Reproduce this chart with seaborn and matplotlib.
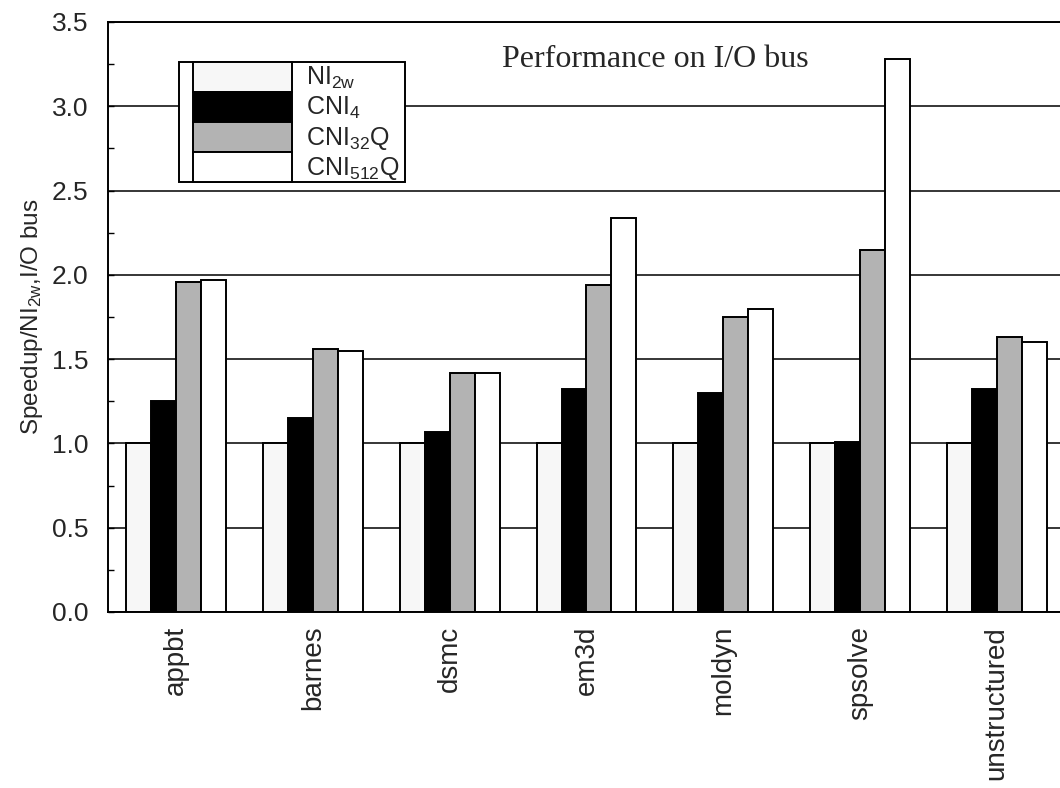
import pandas as pd
import matplotlib.pyplot as plt
import seaborn as sns
from matplotlib.patches import Rectangle
from matplotlib.ticker import MultipleLocator

# dữ liệu
benchmarks = ["appbt", "barnes", "dsmc", "em3d", "moldyn", "spsolve", "unstructured"]
configs = ["NI$_{2w}$", "CNI$_{4}$", "CNI$_{32}$Q", "CNI$_{512}$Q"]
ni2w = [1.0, 1.0, 1.0, 1.0, 1.0, 1.0, 1.0]
cni4 = [1.25, 1.15, 1.07, 1.32, 1.30, 1.01, 1.32]
cni32q = [1.96, 1.56, 1.42, 1.94, 1.75, 2.15, 1.63]
cni512q = [1.97, 1.55, 1.42, 2.34, 1.80, 3.28, 1.60]
colors = ["#f7f7f7", "#000000", "#b3b3b3", "#ffffff"]

rows = []
for cfg, vals in zip(configs, [ni2w, cni4, cni32q, cni512q]):
    for b, v in zip(benchmarks, vals):
        rows.append({"bench": b, "config": cfg, "speedup": v})
df = pd.DataFrame(rows)

sns.set_theme(style="white")
plt.rcParams["font.family"] = ["Liberation Sans", "DejaVu Sans"]
plt.rcParams["mathtext.default"] = "regular"

W, H = 1060, 788
fig = plt.figure(figsize=(W / 100, H / 100), dpi=100)
ax = fig.add_axes([0.1019, 0.2234, 0.9028, 0.7487])

sns.barplot(data=df, x="bench", y="speedup", hue="config", hue_order=configs,
            palette=colors, width=0.73, edgecolor="black", linewidth=1.4,
            saturation=1, legend=False, ax=ax)

ax.set_xlim(-0.5, 6.5)
ax.set_ylim(0, 3.5)
ax.yaxis.set_major_locator(MultipleLocator(0.5))
ax.yaxis.set_minor_locator(MultipleLocator(0.25))
ax.yaxis.set_major_formatter(lambda v, p: f"{v:.1f}")
ax.yaxis.grid(True, color="black", lw=1.1)
ax.set_axisbelow(True)
ax.tick_params(axis="y", which="both", direction="in", length=4, width=1,
               color="black", left=True, labelsize=19, pad=14)
ax.tick_params(axis="x", length=0, labelsize=20, pad=10, labelrotation=90)
for s in ax.spines.values():
    s.set_color("black")
    s.set_linewidth(1.4)
ax.set_xlabel("")
ax.set_ylabel("Speedup/NI$_{2w}$,I/O bus", fontsize=17.5, labelpad=5)

ax.text(0.4117, 0.9237, "Performance on I/O bus", transform=ax.transAxes,
        ha="left", va="baseline", fontsize=23, family="Liberation Serif")

# khung chú thích (vẽ tay theo pixel của hình)
def fx(px):
    return px / W

def fy(py):
    return 1 - py / H

ax.add_patch(Rectangle((fx(179.3), fy(181.7)), fx(225.2), 120 / H,
                       transform=fig.transFigure, facecolor="white",
                       edgecolor="black", lw=1.4, zorder=3))
row_h = 30
for i, (c, lab) in enumerate(zip(colors, configs)):
    top = 61.7 + i * row_h
    ax.add_patch(Rectangle((fx(193.3), fy(top + row_h)), fx(98.4), row_h / H,
                           transform=fig.transFigure, facecolor=c,
                           edgecolor="black", lw=1.4, zorder=4))
    fig.text(fx(306), fy(top + 23), lab, fontsize=18, ha="left", va="baseline",
             zorder=5)

fig.savefig("out.png", dpi=100)
